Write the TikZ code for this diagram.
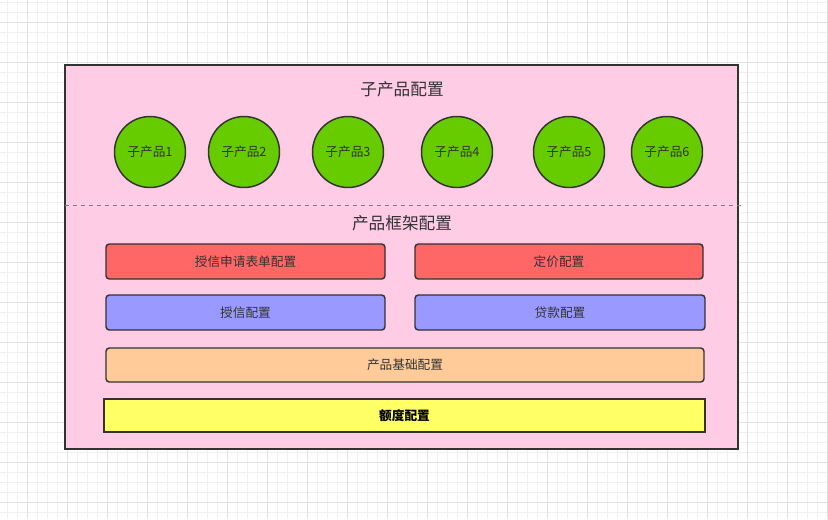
\documentclass[tikz,border=0pt]{standalone}
\usepackage{fontspec}
\setmainfont{Noto Sans CJK SC}
\definecolor{gridfine}{HTML}{F0F0F0}
\definecolor{gridmain}{HTML}{E2E2E2}
\definecolor{pinkbg}{HTML}{FFCCE6}
\definecolor{leafgreen}{HTML}{66CC00}
\definecolor{salmon}{HTML}{FF6666}
\definecolor{lilac}{HTML}{9999FF}
\definecolor{peach}{HTML}{FFCC99}
\definecolor{lemon}{HTML}{FFFF66}
\definecolor{ink}{HTML}{333333}

\begin{document}
\begin{tikzpicture}[x=0.75pt,y=-0.75pt,
	sub/.style={circle, draw=ink, line width=1.1pt, fill=leafgreen,
		minimum size=53.25pt, inner sep=0pt, text=ink, font=\fontsize{9.5}{11}\selectfont},
	cfg/.style={draw=ink, line width=1.1pt, rounded corners=2.5pt, inner sep=0pt,
		text=ink, font=\fontsize{9.5}{11}\selectfont},
	heading/.style={text=ink, font=\fontsize{12.5}{14}\selectfont}]
	\useasboundingbox (0,0) rectangle (828,519);
	% canvas grid
	\foreach \gx in {7,17,...,827} \draw[gridfine, line width=0.75pt] (\gx,0) -- (\gx,519);
	\foreach \gy in {2,12,...,512} \draw[gridfine, line width=0.75pt] (0,\gy) -- (828,\gy);
	\foreach \gx in {27,67,...,827} \draw[gridmain, line width=0.75pt] (\gx,0) -- (\gx,519);
	\foreach \gy in {22,62,...,502} \draw[gridmain, line width=0.75pt] (0,\gy) -- (828,\gy);
	% outer frame
	\node[draw=ink, line width=1.1pt, fill=pinkbg, minimum width=504.75pt,
		minimum height=288pt, inner sep=0pt] (frame) at (401.5,257) {};
	\coordinate (cutL) at (65,205);
	\coordinate (cutR) at (742,205);
	\draw[gray, dashed, line width=0.75pt] (cutL) -- (cutR);
	% sub products
	\node[heading] (subtitle) at (402,89) {子产品配置};
	\node[sub] (p1) at (150,152) {子产品1};
	\node[sub] (p2) at (244,152) {子产品2};
	\node[sub] (p3) at (348,152) {子产品3};
	\node[sub] (p4) at (457,152) {子产品4};
	\node[sub] (p5) at (569,152) {子产品5};
	\node[sub] (p6) at (667,152) {子产品6};
	% framework
	\node[heading] (fwtitle) at (402,223) {产品框架配置};
	\node[cfg, fill=salmon, minimum width=209.25pt, minimum height=26.25pt] (apply) at (245.5,261.5) {授信申请表单配置};
	\node[cfg, fill=salmon, minimum width=216pt, minimum height=26.25pt] (price) at (559,261.5) {定价配置};
	\node[cfg, fill=lilac, minimum width=209.25pt, minimum height=26.25pt] (credit) at (245.5,312.5) {授信配置};
	\node[cfg, fill=lilac, minimum width=217.5pt, minimum height=26.25pt] (loan) at (560,312.5) {贷款配置};
	\node[cfg, fill=peach, minimum width=448.5pt, minimum height=25.5pt] (base) at (405,365) {产品基础配置};
	\node[cfg, fill=lemon, rounded corners=0pt, minimum width=450.75pt, minimum height=24.75pt,
		text=black, font=\fontsize{9.5}{11}\selectfont\bfseries] (quota) at (404.5,415.5) {额度配置};
\end{tikzpicture}
\end{document}
